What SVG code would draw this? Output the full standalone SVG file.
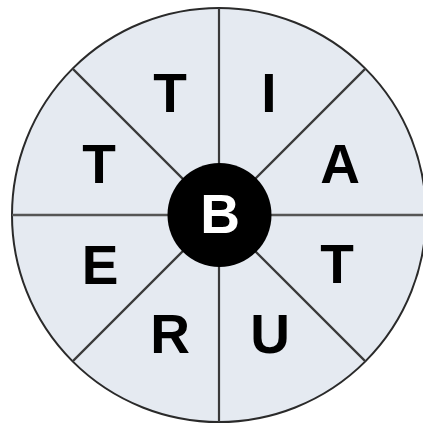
<svg xmlns="http://www.w3.org/2000/svg" width="423" height="425" viewBox="0 0 423 425">
<style>
.ln{stroke:#3a3a3a;stroke-width:2.2;fill:none}
.lt{font-family:"Liberation Sans",Arial,sans-serif;font-weight:bold;font-size:55px;text-anchor:middle;fill:#000}
</style>
<rect width="423" height="425" fill="#fff"/>
<g id="wheel">
<circle cx="219" cy="215" r="207" fill="#e5eaf1" stroke="#2a2a2a" stroke-width="2"/>
</g>
<g id="connectors">
<line class="ln" x1="219" y1="8" x2="219" y2="422"/>
<line class="ln" x1="12" y1="215" x2="426" y2="215" style="stroke:#555;stroke-width:2.6"/>
<line class="ln" x1="72.6" y1="68.6" x2="365.4" y2="361.4"/>
<line class="ln" x1="365.4" y1="68.6" x2="72.6" y2="361.4"/>
</g>
<g id="center">
<circle cx="219.5" cy="215" r="52" fill="#000"/>
<text class="lt" x="220" y="233" style="fill:#fff">B</text>
</g>
<g id="l1"><text class="lt" x="170" y="112">T</text></g>
<g id="l2"><text class="lt" x="269" y="112">I</text></g>
<g id="l3"><text class="lt" x="340" y="183">A</text></g>
<g id="l4"><text class="lt" x="337" y="283">T</text></g>
<g id="l5"><text class="lt" x="270" y="353">U</text></g>
<g id="l6"><text class="lt" x="170" y="353">R</text></g>
<g id="l7"><text class="lt" x="100" y="284">E</text></g>
<g id="l8"><text class="lt" x="99" y="183">T</text></g>
</svg>
